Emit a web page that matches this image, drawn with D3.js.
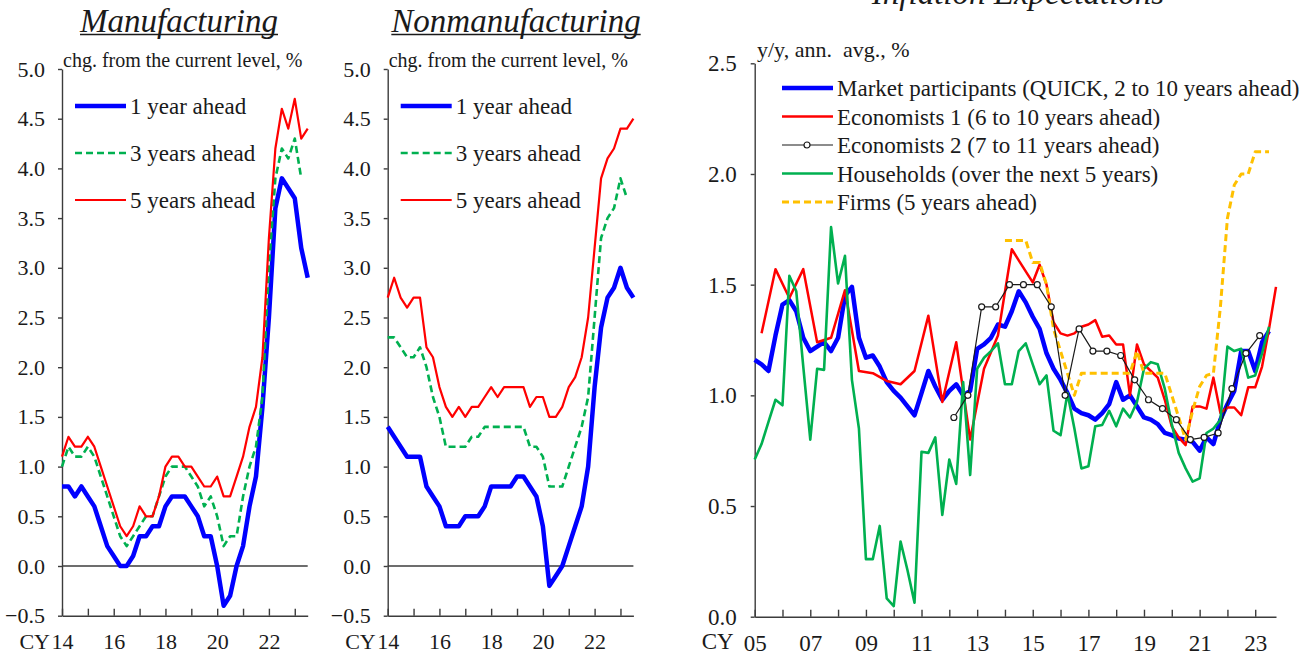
<!DOCTYPE html>
<html>
<head>
<meta charset="utf-8">
<script src="https://cdn.jsdelivr.net/npm/d3@7"></script>
<style>
body { margin: 0; background: #fff; }
svg text { font-family: "Liberation Serif", "Times New Roman", serif; fill: #1a1a1a; }
</style>
</head>
<body>
<div id="chart"></div>
<script>
// ---- Tankan panels (quarterly, 2014Q1 - 2023Q3)
const tankanQuarters = [
    "14Q1","14Q2","14Q3","14Q4","15Q1","15Q2","15Q3","15Q4","16Q1","16Q2","16Q3","16Q4",
    "17Q1","17Q2","17Q3","17Q4","18Q1","18Q2","18Q3","18Q4","19Q1","19Q2","19Q3","19Q4",
    "20Q1","20Q2","20Q3","20Q4","21Q1","21Q2","21Q3","21Q4","22Q1","22Q2","22Q3","22Q4",
    "23Q1","23Q2","23Q3"
];
const tankanYearTicks = ["14Q1","15Q1","16Q1","17Q1","18Q1","19Q1","20Q1","21Q1","22Q1","23Q1"];
const tankanYearLabels = {"14Q1": "14", "16Q1": "16", "18Q1": "18", "20Q1": "20", "22Q1": "22"};
const tankanYTicks = [-0.5, 0, 0.5, 1, 1.5, 2, 2.5, 3, 3.5, 4, 4.5, 5];

const manuOneYear = [0.8, 0.8, 0.7, 0.8, 0.7, 0.6, 0.4, 0.2, 0.1, 0.0, 0.0, 0.1, 0.3, 0.3, 0.4, 0.4, 0.6, 0.7, 0.7, 0.7,
    0.6, 0.5, 0.3, 0.3, 0.0, -0.4, -0.3, 0.0, 0.2, 0.6, 0.9, 1.6, 2.5, 3.6, 3.9, 3.8, 3.7, 3.2, 2.9];
const manuThreeYears = [1.0, 1.2, 1.1, 1.1, 1.2, 1.1, 0.9, 0.7, 0.5, 0.3, 0.2, 0.3, 0.4, 0.5, 0.5, 0.7, 0.9, 1.0, 1.0, 1.0,
    0.9, 0.8, 0.6, 0.7, 0.5, 0.2, 0.3, 0.3, 0.7, 1.0, 1.2, 1.7, 3.0, 3.9, 4.2, 4.1, 4.3, 3.9];
const manuFiveYears = [1.1, 1.3, 1.2, 1.2, 1.3, 1.2, 1.0, 0.8, 0.6, 0.4, 0.3, 0.4, 0.6, 0.5, 0.5, 0.7, 1.0, 1.1, 1.1, 1.0,
    1.0, 0.9, 0.8, 0.8, 0.9, 0.7, 0.7, 0.9, 1.1, 1.4, 1.6, 2.1, 3.3, 4.2, 4.6, 4.4, 4.7, 4.3, 4.4];

const nonmanuOneYear = [1.4, 1.3, 1.2, 1.1, 1.1, 1.1, 0.8, 0.7, 0.6, 0.4, 0.4, 0.4, 0.5, 0.5, 0.5, 0.6, 0.8, 0.8, 0.8, 0.8,
    0.9, 0.9, 0.8, 0.7, 0.4, -0.2, -0.1, 0.0, 0.2, 0.4, 0.6, 1.0, 1.8, 2.4, 2.7, 2.8, 3.0, 2.8, 2.7];
const nonmanuThreeYears = [2.3, 2.3, 2.2, 2.1, 2.1, 2.2, 2.0, 1.7, 1.5, 1.2, 1.2, 1.2, 1.2, 1.3, 1.3, 1.4, 1.4, 1.4, 1.4, 1.4,
    1.4, 1.4, 1.2, 1.2, 1.1, 0.8, 0.8, 0.8, 1.0, 1.2, 1.4, 1.7, 2.5, 3.3, 3.5, 3.6, 3.9, 3.7];
const nonmanuFiveYears = [2.7, 2.9, 2.7, 2.6, 2.7, 2.7, 2.2, 2.1, 1.8, 1.6, 1.5, 1.6, 1.5, 1.6, 1.6, 1.7, 1.8, 1.7, 1.8, 1.8,
    1.8, 1.8, 1.6, 1.7, 1.7, 1.5, 1.5, 1.6, 1.8, 1.9, 2.1, 2.5, 3.2, 3.9, 4.1, 4.2, 4.4, 4.4, 4.5];

// ---- Inflation expectations panel
const quarterDates = [
    "2005-01","2005-04","2005-07","2005-10","2006-01","2006-04","2006-07","2006-10",
    "2007-01","2007-04","2007-07","2007-10","2008-01","2008-04","2008-07","2008-10",
    "2009-01","2009-04","2009-07","2009-10","2010-01","2010-04","2010-07","2010-10",
    "2011-01","2011-04","2011-07","2011-10","2012-01","2012-04","2012-07","2012-10",
    "2013-01","2013-04","2013-07","2013-10","2014-01","2014-04","2014-07","2014-10",
    "2015-01","2015-04","2015-07","2015-10","2016-01","2016-04","2016-07","2016-10",
    "2017-01","2017-04","2017-07","2017-10","2018-01","2018-04","2018-07","2018-10",
    "2019-01","2019-04","2019-07","2019-10","2020-01","2020-04","2020-07","2020-10",
    "2021-01","2021-04","2021-07","2021-10","2022-01","2022-04","2022-07","2022-10",
    "2023-01","2023-04","2023-07"
];
const marketParticipants = [
    1.16, 1.14, 1.11, 1.27, 1.41, 1.43, 1.38, 1.26, 1.20, 1.22, 1.24, 1.20, 1.26, 1.45, 1.49, 1.26,
    1.17, 1.18, 1.13, 1.06, 1.02, 0.99, 0.95, 0.91, 1.01, 1.11, 1.04, 0.98, 1.02, 1.05, 1.00, 1.02,
    1.21, 1.23, 1.26, 1.32, 1.31, 1.38, 1.47, 1.42, 1.355, 1.30, 1.19, 1.12, 1.07, 1.01, 0.94, 0.92,
    0.91, 0.89, 0.92, 0.96, 1.06, 0.98, 1.00, 0.95, 0.90, 0.89, 0.87, 0.83, 0.82, 0.805, 0.80, 0.79,
    0.75, 0.81, 0.78, 0.89, 0.96, 1.02, 1.20, 1.20, 1.11, 1.24, 1.29
];
const households = [
    0.71, 0.78, 0.88, 0.98, 0.955, 1.54, 1.47, 1.13, 0.80, 1.12, 1.115, 1.76, 1.505, 1.63, 1.07, 0.85,
    0.26, 0.26, 0.41, 0.083, 0.048, 0.34, 0.21, 0.063, 0.745, 0.74, 0.81, 0.46, 0.71, 0.60, 1.06, 0.64,
    1.12, 1.17, 1.20, 1.235, 1.05, 1.05, 1.20, 1.235, 1.14, 1.05, 1.09, 0.84, 0.82, 1.01, 0.85, 0.67,
    0.68, 0.86, 0.866, 0.93, 0.86, 0.94, 0.90, 0.97, 1.12, 1.15, 1.14, 1.03, 0.87, 0.74, 0.67, 0.61,
    0.625, 0.83, 0.85, 0.89, 1.22, 1.20, 1.21, 1.08, 1.09, 1.19, 1.31
];
const economists1Dates = [
    "2005-04","2005-10","2006-04","2006-10","2007-04","2007-10","2008-04","2008-10","2009-04","2009-10",
    "2010-04","2010-10","2011-04","2011-10","2012-04","2012-10","2013-04","2013-10",
    "2014-04","2014-07","2014-10","2015-01","2015-04","2015-07","2015-10","2016-01","2016-04","2016-07","2016-10",
    "2017-01","2017-04","2017-07","2017-10","2018-01","2018-04","2018-07","2018-10","2019-01","2019-04","2019-07","2019-10",
    "2020-01","2020-04","2020-07","2020-10","2021-01","2021-04","2021-07","2021-10","2022-01","2022-04","2022-07","2022-10",
    "2023-01","2023-04","2023-07","2023-10"
];
const economists1 = [
    1.28, 1.57, 1.44, 1.57, 1.24, 1.26, 1.475, 1.11, 1.10, 1.065, 1.05, 1.11, 1.36, 0.97, 1.24, 0.80, 1.12, 1.27,
    1.66, 1.61, 1.56, 1.51, 1.59, 1.50, 1.33, 1.28, 1.27, 1.28, 1.31,
    1.32, 1.34, 1.265, 1.27, 1.23, 1.23, 1.00, 1.23, 1.14, 1.11, 1.08, 0.98,
    0.86, 0.81, 0.775, 0.95, 0.95, 0.94, 1.08, 0.92, 0.945, 0.945, 0.91, 1.036,
    1.036, 1.13, 1.30, 1.49
];
const economists2Dates = [
    "2012-03","2012-09","2013-03","2013-09","2014-03","2014-09","2015-03","2015-09","2016-03","2016-09",
    "2017-03","2017-09","2018-03","2018-09","2019-03","2019-09","2020-03","2020-09","2021-03","2021-09",
    "2022-03","2022-09","2023-03"
];
const economists2 = [0.90, 1.00, 1.40, 1.40, 1.50, 1.50, 1.50, 1.40, 1.00, 1.30, 1.20, 1.20, 1.18, 1.07, 0.98, 0.94,
    0.89, 0.80, 0.81, 0.83, 1.03, 1.19, 1.27];
const firmsDates = quarterDates.slice(36);
const firms = [1.70, 1.70, 1.70, 1.70, 1.60, 1.60, 1.50, 1.30, 1.20, 1.10, 1.00, 1.10, 1.10, 1.10, 1.10, 1.10,
    1.10, 1.10, 1.10, 1.20, 1.10, 1.10, 1.10, 1.10, 1.00, 0.90, 0.80, 0.93, 1.04, 1.09, 1.10, 1.40,
    1.80, 1.95, 2.00, 2.00, 2.10, 2.10, 2.10];
const expYTicks = [0, 0.5, 1, 1.5, 2, 2.5];
const expYearTicks = d3.range(2005, 2024);
const expYearLabels = {2005: "05", 2007: "07", 2009: "09", 2011: "11", 2013: "13", 2015: "15", 2017: "17", 2019: "19", 2021: "21", 2023: "23"};

const width = 1308;
const height = 657;
const blue = "#0000ff", red = "#ff0000", green = "#00b050", orange = "#ffc000", black = "#1a1a1a", axisGray = "#3c3c3c";

const svg = d3.select("#chart")
    .append("svg")
    .attr("width", width)
    .attr("height", height);

function underlinedTitle(x, y, text) {
    const t = svg.append("text")
        .attr("x", x)
        .attr("y", y)
        .attr("text-anchor", "middle")
        .style("font-size", "33px")
        .style("font-style", "italic")
        .text(text);
    const w = t.node().getComputedTextLength();
    svg.append("line")
        .attr("x1", x - w / 2).attr("x2", x + w / 2)
        .attr("y1", y + 2.5).attr("y2", y + 2.5)
        .style("stroke", black)
        .style("stroke-width", 1.5);
}

function styleAxis(size) {
    return g => {
        g.selectAll("path, line").style("stroke", axisGray).style("stroke-width", 1.4);
        g.selectAll("text").style("font-size", size).style("fill", black)
            .style("font-family", "'Liberation Serif', 'Times New Roman', serif");
    };
}

function tankanPanel(p) {
    const left = p.left;
    const x = d3.scalePoint().domain(tankanQuarters).range([left, left + 245.7]);
    const y = d3.scaleLinear().domain([-0.5, 5.0]).range([615.7, 69]);

    underlinedTitle(p.titleX, 32, p.title);

    svg.append("text")
        .attr("x", left + 1)
        .attr("y", 67)
        .style("font-size", "20px")
        .text("chg. from the current level, %");

    svg.append("g")
        .attr("transform", `translate(${left},0)`)
        .call(d3.axisLeft(y).tickValues(tankanYTicks).tickSize(4).tickSizeOuter(0)
            .tickPadding(13).tickFormat(d3.format(".1f")))
        .call(styleAxis("22px"));

    svg.append("g")
        .attr("transform", `translate(0,${y(-0.5)})`)
        .call(d3.axisBottom(x).tickValues(tankanYearTicks).tickSize(-7).tickSizeOuter(0)
            .tickPadding(18).tickFormat(d => tankanYearLabels[d] || ""))
        .call(styleAxis("22px"));

    svg.append("text")
        .attr("x", x("14Q1") - 12)
        .attr("y", 649)
        .attr("text-anchor", "end")
        .style("font-size", "22px")
        .text("CY");

    svg.append("line")
        .attr("x1", x.range()[0]).attr("x2", x.range()[1])
        .attr("y1", y(0)).attr("y2", y(0))
        .style("stroke", axisGray)
        .style("stroke-width", 1.4);

    const series = [
        {name: "1 year ahead", values: p.oneYear, color: blue, w: 4.5, dash: null},
        {name: "3 years ahead", values: p.threeYears, color: green, w: 2.6, dash: "7,4"},
        {name: "5 years ahead", values: p.fiveYears, color: red, w: 2.2, dash: null}
    ];

    const line = d3.line()
        .x((d, i) => x(tankanQuarters[i]))
        .y(d => y(d));

    svg.selectAll(null)
        .data(series)
        .join("path")
            .attr("d", d => line(d.values))
            .style("fill", "none")
            .style("stroke", d => d.color)
            .style("stroke-width", d => d.w)
            .style("stroke-dasharray", d => d.dash)
            .style("stroke-linejoin", "round");

    const gLegend = svg.selectAll(null)
        .data(series)
        .join("g")
            .attr("transform", (_, i) => `translate(${left + 13},${106 + i * 47})`);
    gLegend.append("line")
        .attr("x1", 0).attr("x2", 51)
        .style("stroke", d => d.color)
        .style("stroke-width", d => d.w)
        .style("stroke-dasharray", d => d.dash);
    gLegend.append("text")
        .attr("x", 55)
        .attr("y", 8)
        .style("font-size", "23px")
        .text(d => d.name);
}

tankanPanel({left: 62, title: "Manufacturing", titleX: 179,
    oneYear: manuOneYear, threeYears: manuThreeYears, fiveYears: manuFiveYears});
tankanPanel({left: 387.7, title: "Nonmanufacturing", titleX: 516,
    oneYear: nonmanuOneYear, threeYears: nonmanuThreeYears, fiveYears: nonmanuFiveYears});

// ---- right panel
function expectationsPanel() {
    const parse = d3.timeParse("%Y-%m");
    const x = d3.scaleTime()
        .domain([parse("2005-01"), parse("2023-10")])
        .range([754.7, 1276]);
    const y = d3.scaleLinear().domain([0, 2.5]).range([616.7, 63.3]);

    svg.append("text")
        .attr("x", 1018)
        .attr("y", 4)
        .attr("text-anchor", "middle")
        .style("font-size", "33px")
        .style("font-style", "italic")
        .text("Inflation Expectations");

    svg.append("text")
        .attr("x", 757)
        .attr("y", 57)
        .style("font-size", "22px")
        .style("white-space", "pre")
        .text("y/y, ann.  avg., %");

    svg.append("g")
        .attr("transform", "translate(754.7,0)")
        .call(d3.axisLeft(y).tickValues(expYTicks).tickSize(4).tickSizeOuter(0)
            .tickPadding(14).tickFormat(d3.format(".1f")))
        .call(styleAxis("23px"));

    svg.append("g")
        .attr("transform", `translate(0,${y(0)})`)
        .call(d3.axisBottom(x).tickValues(expYearTicks.map(yr => new Date(yr, 0, 1))).tickSize(-7).tickSizeOuter(0)
            .tickPadding(18).tickFormat(d => expYearLabels[d.getFullYear()] || ""))
        .call(styleAxis("23px"));

    svg.append("text")
        .attr("x", x(new Date(2005, 0, 1)) - 21)
        .attr("y", 649)
        .attr("text-anchor", "end")
        .style("font-size", "23px")
        .text("CY");

    const series = [
        {name: "Market participants (QUICK, 2 to 10 years ahead)", dates: quarterDates, values: marketParticipants, color: blue, w: 4.5, dash: null},
        {name: "Economists 1 (6 to 10 years ahead)", dates: economists1Dates, values: economists1, color: red, w: 2.5, dash: null},
        {name: "Households (over the next 5 years)", dates: quarterDates, values: households, color: green, w: 2.6, dash: null},
        {name: "Firms (5 years ahead)", dates: firmsDates, values: firms, color: orange, w: 3, dash: "7,4"},
        {name: "Economists 2 (7 to 11 years ahead)", dates: economists2Dates, values: economists2, color: black, w: 1.2, dash: null, marker: true}
    ];

    const line = d3.line()
        .x(d => x(parse(d.date)))
        .y(d => y(d.value));

    series.forEach(s => {
        const pts = s.values.map((v, i) => ({date: s.dates[i], value: v}));
        svg.append("path")
            .attr("d", line(pts))
            .style("fill", "none")
            .style("stroke", s.color)
            .style("stroke-width", s.w)
            .style("stroke-dasharray", s.dash)
            .style("stroke-linejoin", "round");
        if (s.marker) {
            svg.selectAll(null)
                .data(pts)
                .join("circle")
                    .attr("cx", d => x(parse(d.date)))
                    .attr("cy", d => y(d.value))
                    .attr("r", 3)
                    .style("fill", "#fff")
                    .style("stroke", black)
                    .style("stroke-width", 1.2);
        }
    });

    // legend in the original order
    const legendOrder = [0, 1, 4, 2, 3].map(i => series[i]);
    const gLegend = svg.selectAll(null)
        .data(legendOrder)
        .join("g")
            .attr("transform", (_, i) => `translate(782,${88 + i * 28.5})`);
    gLegend.append("line")
        .attr("x1", 0).attr("x2", 51)
        .style("stroke", d => d.color)
        .style("stroke-width", d => d.w)
        .style("stroke-dasharray", d => d.dash);
    gLegend.filter(d => d.marker)
        .append("circle")
            .attr("cx", 25).attr("r", 3)
            .style("fill", "#fff")
            .style("stroke", black)
            .style("stroke-width", 1.2);
    gLegend.append("text")
        .attr("x", 55)
        .attr("y", 8)
        .style("font-size", "23px")
        .text(d => d.name);
}

expectationsPanel();
</script>
</body>
</html>
